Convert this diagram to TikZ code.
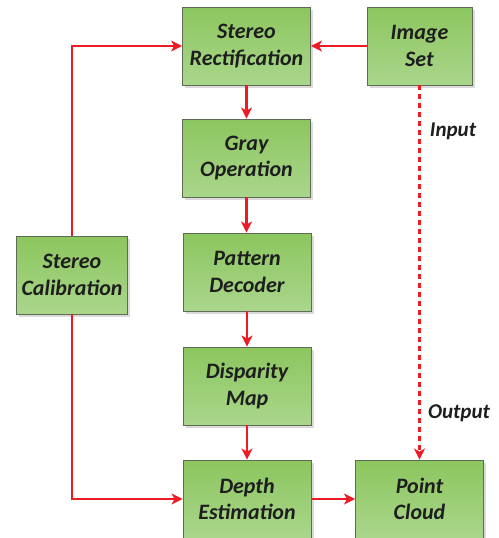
\documentclass[tikz,border=0pt]{standalone}
\usepackage{fontspec}
\setmainfont{Carlito}
\usetikzlibrary{arrows.meta,shadows}
\definecolor{boxtop}{HTML}{8CC65E}
\definecolor{boxbot}{HTML}{AAD68C}
\definecolor{boxedge}{HTML}{5E6B57}
\definecolor{arrred}{HTML}{ED1C24}
\definecolor{txt}{HTML}{1E1E1E}
\tikzset{
  block/.style={rectangle, draw=boxedge, line width=0.9pt, top color=boxtop, bottom color=boxbot,
    minimum width=128pt, minimum height=78pt, inner sep=0pt, align=center,
    font=\fontsize{22}{26.5}\selectfont\bfseries\itshape, text=txt,
    drop shadow={shadow xshift=2.5pt, shadow yshift=-2.5pt, fill=black!18, opacity=0.8}},
  flow/.style={draw=arrred, line width=2.6pt, -{Stealth[length=11pt,width=11pt,inset=3pt]}},
  dotflow/.style={flow, dash pattern=on 5pt off 4pt},
  lbl/.style={font=\fontsize{21}{24}\selectfont\bfseries\itshape, text=txt, inner sep=0pt}
}
\begin{document}
\begin{tikzpicture}[x=1pt,y=-1pt]
\useasboundingbox (0,0) rectangle (498,538);
\node[block] (rect) at (246.5,46) {Stereo\\Rectification};
\node[block, minimum width=105pt] (img) at (419.5,46) {Image\\Set};
\node[block] (gray) at (246.5,158) {Gray\\Operation};
\node[block] (pat) at (247,272) {Pattern\\Decoder};
\node[block] (disp) at (247,386) {Disparity\\Map};
\node[block] (depth) at (247,499) {Depth\\Estimation};
\node[block] (cloud) at (419.5,499) {Point\\Cloud};
\node[block, minimum width=111pt] (calib) at (72,275) {Stereo\\Calibration};
\node[lbl] (inlbl) at (453,131) {Input};
\node[lbl] (outlbl) at (459,413) {Output};
\draw[flow] (img.west) -- (rect.east);
\draw[flow] (rect.south) -- (rect.south |- gray.north);
\draw[flow] (gray.south) -- (gray.south |- pat.north);
\draw[flow] (pat.south) -- (pat.south |- disp.north);
\draw[flow] (disp.south) -- (disp.south |- depth.north);
\draw[flow] (depth.east) -- (cloud.west);
\draw[flow] (calib.north) |- (rect.west);
\draw[flow] (calib.south) |- (depth.west);
\draw[dotflow] (img.south) -- (cloud.north);
\end{tikzpicture}
\end{document}
